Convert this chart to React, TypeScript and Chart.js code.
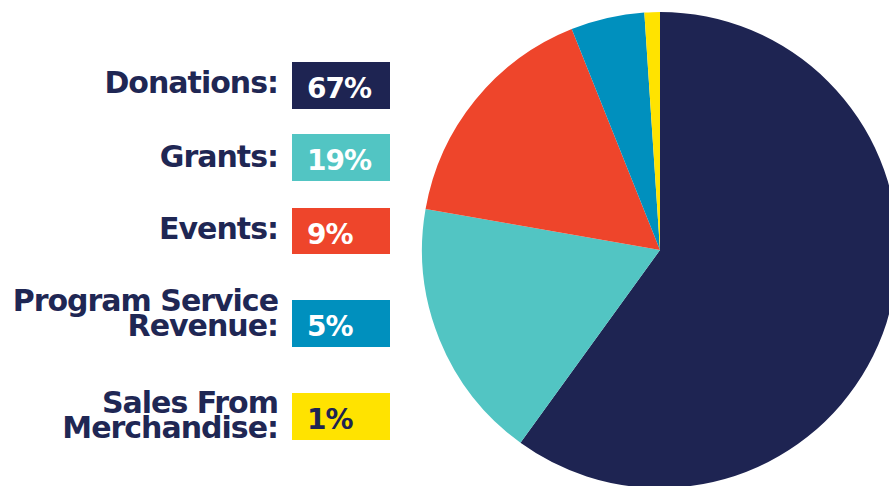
import React, { useEffect, useRef } from "react";
import { Chart, registerables } from "chart.js";

Chart.register(...registerables);

const categories = ["Donations:", "Grants:", "Events:", "Program Service\nRevenue:", "Sales From\nMerchandise:"];
const percentLabels = ["67%", "19%", "9%", "5%", "1%"];
// slice sizes as drawn in the picture (degrees converted to % of circle)
const sliceValues = [60.0, 17.8, 16.2, 5.0, 1.05];
const colors = ["#1e2452", "#52c5c3", "#ee452b", "#0090be", "#ffe300"];
const percentTextColors = ["#ffffff", "#ffffff", "#ffffff", "#ffffff", "#1e2452"];

const TEXT = "#1f2754";
const FONT = '"DejaVu Sans", sans-serif';

// layout for legend rows (px)
const boxTops = [62, 134, 207.5, 300, 393.3];
const labelTops = [70.1, 144.1, 215.6, 288.1, 390.1];

export default function App() {
  const ref = useRef<HTMLCanvasElement | null>(null);

  useEffect(() => {
    if (!ref.current) return;
    const chart = new Chart(ref.current, {
      type: "pie",
      data: {
        labels: categories.map((c) => c.replace("\n", " ")),
        datasets: [
          {
            data: sliceValues,
            backgroundColor: colors,
            borderWidth: 0,
          },
        ],
      },
      options: {
        responsive: false,
        animation: false,
        layout: { padding: 2 },
        plugins: {
          legend: { display: false },
          tooltip: { enabled: false },
        },
      },
    });
    return () => chart.destroy();
  }, []);

  return (
    <div
      style={{
        position: "fixed",
        left: 0,
        top: 0,
        width: 889,
        height: 486,
        overflow: "hidden",
        background: "#ffffff",
      }}
    >
      <canvas
        ref={ref}
        width={480}
        height={480}
        style={{ position: "absolute", left: 420, top: 10, width: 480, height: 480 }}
      />
      {categories.map((c, i) => (
        <div
          key={"l" + i}
          style={{
            position: "absolute",
            left: 0,
            width: 278,
            top: labelTops[i],
            textAlign: "right",
            fontFamily: FONT,
            fontWeight: 700,
            fontSize: 30,
            letterSpacing: -1,
            lineHeight: "25px",
            color: TEXT,
            whiteSpace: "pre",
          }}
        >
          {c}
        </div>
      ))}
      {percentLabels.map((p, i) => (
        <div
          key={"b" + i}
          style={{
            position: "absolute",
            left: 292,
            top: boxTops[i],
            width: 98,
            height: 46.5,
            background: colors[i],
          }}
        >
          <div
            style={{
              position: "absolute",
              left: 15,
              top: 14,
              fontFamily: FONT,
              fontWeight: 700,
              fontSize: 28,
              letterSpacing: -1,
              lineHeight: "25px",
              color: percentTextColors[i],
              whiteSpace: "pre",
            }}
          >
            {p}
          </div>
        </div>
      ))}
    </div>
  );
}
